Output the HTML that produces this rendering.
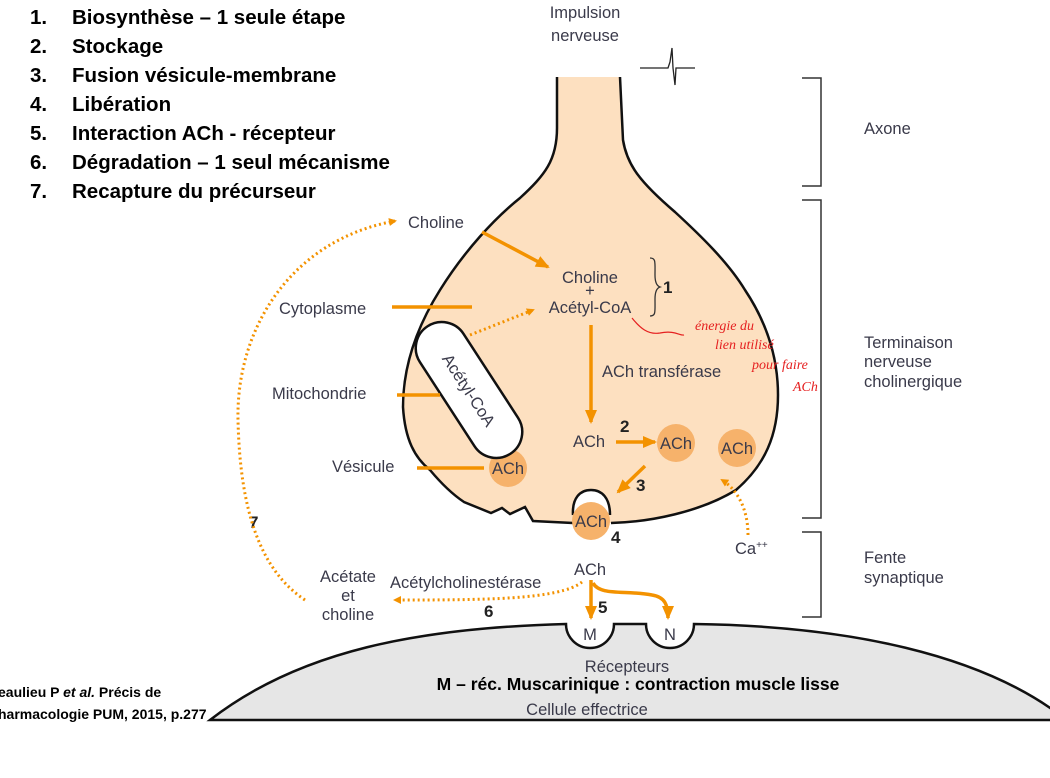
<!DOCTYPE html>
<html><head><meta charset="utf-8"><style>
html,body{margin:0;padding:0;background:#fff;}
svg{display:block;}
.t{font-family:"Liberation Sans",sans-serif;fill:#3a3a4a;font-size:16.5px;}
.b{font-family:"Liberation Sans",sans-serif;font-weight:bold;fill:#000;font-size:20.5px;}
.n{font-family:"Liberation Sans",sans-serif;font-weight:bold;fill:#222;font-size:17px;}
.h{font-family:"Liberation Serif",serif;font-style:italic;fill:#e52020;font-size:14px;}
</style></head><body>
<svg width="1050" height="778" viewBox="0 0 1050 778" xmlns="http://www.w3.org/2000/svg">
<defs>
<marker id="a" markerWidth="8" markerHeight="8" refX="6" refY="4" orient="auto" markerUnits="userSpaceOnUse"><path d="M0,0 L8,4 L0,8 z" fill="#f39200"/></marker>
<marker id="A" markerWidth="14" markerHeight="12" refX="12" refY="6" orient="auto" markerUnits="userSpaceOnUse"><path d="M0,0 L14,6 L0,12 z" fill="#f39200"/></marker>
</defs>
<g class="b">
<text x="30" y="24">1.</text><text x="72" y="24">Biosynthèse – 1 seule étape</text>
<text x="30" y="53">2.</text><text x="72" y="53">Stockage</text>
<text x="30" y="82">3.</text><text x="72" y="82">Fusion vésicule-membrane</text>
<text x="30" y="111">4.</text><text x="72" y="111">Libération</text>
<text x="30" y="140">5.</text><text x="72" y="140">Interaction ACh - récepteur</text>
<text x="30" y="169">6.</text><text x="72" y="169">Dégradation – 1 seul mécanisme</text>
<text x="30" y="198">7.</text><text x="72" y="198">Recapture du précurseur</text>
</g>
<text x="-2" y="697" style="font-family:'Liberation Sans',sans-serif;font-weight:bold;font-size:14px">eaulieu P <tspan font-style="italic">et al.</tspan> Précis de</text>
<text x="-2" y="719" style="font-family:'Liberation Sans',sans-serif;font-weight:bold;font-size:14px">harmacologie PUM, 2015, p.277</text>

<text class="t" x="585" y="18" text-anchor="middle">Impulsion</text>
<text class="t" x="585" y="41" text-anchor="middle">nerveuse</text>
<path d="M640,68 L668,68 L670,62 L672,48 L673,68 L675,85 L676,68 L695,68" fill="none" stroke="#222" stroke-width="1.3"/>

<path d="M210,720 C300,650 420,628 566,624 A24,24 0 0 0 614,624 L646,624 A24,24 0 0 0 694,624 C850,626 980,655 1060,715 L1060,720 Z" fill="#e6e6e6" stroke="#111" stroke-width="2.5"/>
<text class="t" x="590" y="640" text-anchor="middle">M</text>
<text class="t" x="670" y="640" text-anchor="middle">N</text>
<text class="t" x="627" y="672" text-anchor="middle">Récepteurs</text>
<text x="638" y="690" text-anchor="middle" style="font-family:'Liberation Sans',sans-serif;font-weight:bold;font-size:17.5px">M – réc. Muscarinique : contraction muscle lisse</text>
<text class="t" x="587" y="715" text-anchor="middle">Cellule effectrice</text>

<path d="M557,77 L557,128 C557,160 545,175 520,198 C495,218 465,250 440,290 C418,325 403,365 403,407 C405,440 415,458 430,470 C440,482 452,494 464,502 L491,513 L502,508 L510,514 L525,507 L533,521 L573,523 L611,523 C650,522 700,512 736,490 C765,465 778,435 778,395 C778,355 765,320 745,290 C728,262 700,235 675,212 C640,182 627,165 623,140 L620,77 Z" fill="#fde0c0"/>
<path d="M557,77 L557,128 C557,160 545,175 520,198 C495,218 465,250 440,290 C418,325 403,365 403,407 C405,440 415,458 430,470 C440,482 452,494 464,502 L491,513 L502,508 L510,514 L525,507 L533,521 L573,523 M611,523 C650,522 700,512 736,490 C765,465 778,435 778,395 C778,355 765,320 745,290 C728,262 700,235 675,212 C640,182 627,165 623,140 L620,77" fill="none" stroke="#111" stroke-width="2.5"/>
<path d="M573,515 C572,498 580,490 591,490 C602,490 610,498 610,515" fill="#fff" stroke="#111" stroke-width="2.5"/>
<circle cx="591" cy="521" r="19" fill="#f6b26b"/>
<text class="t" x="591" y="527" text-anchor="middle">ACh</text>
<circle cx="508" cy="468" r="19" fill="#f6b26b"/>
<text class="t" x="508" y="474" text-anchor="middle">ACh</text>
<circle cx="676" cy="443" r="19" fill="#f6b26b"/>
<text class="t" x="676" y="449" text-anchor="middle">ACh</text>
<circle cx="737" cy="448" r="19" fill="#f6b26b"/>
<text class="t" x="737" y="454" text-anchor="middle">ACh</text>

<g transform="translate(469,390) rotate(57)">
<rect x="-76" y="-26" width="152" height="52" rx="26" fill="#fff" stroke="#111" stroke-width="2.5"/>
<text class="t" x="0" y="6" text-anchor="middle">Acétyl-CoA</text>
</g>

<text class="t" x="408" y="228">Choline</text>
<text class="t" x="590" y="283" text-anchor="middle">Choline</text>
<text class="t" x="590" y="296" text-anchor="middle">+</text>
<text class="t" x="590" y="313" text-anchor="middle">Acétyl-CoA</text>
<path d="M650,258 C656,258 655,262 655,275 C655,283 657,286 660,287 C657,288 655,291 655,299 C655,312 656,316 650,316" fill="none" stroke="#333" stroke-width="1.3"/>
<text class="n" x="663" y="293">1</text>
<text class="t" x="279" y="314">Cytoplasme</text>
<text class="t" x="272" y="399">Mitochondrie</text>
<text class="t" x="332" y="472">Vésicule</text>
<text class="t" x="602" y="377">ACh transférase</text>
<text class="t" x="573" y="447">ACh</text>
<text class="n" x="620" y="432">2</text>
<text class="n" x="636" y="491">3</text>
<text class="n" x="611" y="543">4</text>
<text class="t" x="735" y="554">Ca<tspan font-size="10" dy="-6">++</tspan></text>
<text class="t" x="590" y="575" text-anchor="middle">ACh</text>
<text class="n" x="598" y="613">5</text>
<text class="n" x="484" y="617">6</text>
<text class="n" x="249" y="528">7</text>
<text class="t" x="348" y="582" text-anchor="middle">Acétate</text>
<text class="t" x="348" y="601" text-anchor="middle">et</text>
<text class="t" x="348" y="620" text-anchor="middle">choline</text>
<text class="t" x="390" y="588">Acétylcholinestérase</text>

<g stroke="#f39200" stroke-width="3.5" fill="none">
<line x1="392" y1="307" x2="472" y2="307"/>
<line x1="397" y1="395" x2="440" y2="395"/>
<line x1="417" y1="468" x2="484" y2="468"/>
<line x1="482" y1="232" x2="548" y2="267" marker-end="url(#A)"/>
<line x1="591" y1="325" x2="591" y2="422" marker-end="url(#A)"/>
<line x1="616" y1="442" x2="655" y2="442" marker-end="url(#A)"/>
<line x1="645" y1="466" x2="618" y2="492" marker-end="url(#A)"/>
<line x1="591" y1="580" x2="591" y2="618" marker-end="url(#A)"/>
<path d="M593,583 C600,596 625,590 652,595 C665,597 668,605 668,618" marker-end="url(#A)"/>
</g>
<g stroke="#f39200" stroke-width="3" fill="none" stroke-dasharray="2,3">
<path d="M305,600 C260,570 240,510 238,420 C236,330 290,240 395,221" marker-end="url(#a)"/>
<line x1="470" y1="335" x2="533" y2="310" marker-end="url(#a)"/>
<path d="M582,582 C560,600 480,600 395,600" marker-end="url(#a)"/>
<path d="M748,535 C748,510 738,490 722,480" marker-end="url(#a)"/>
</g>

<path d="M632,318 C640,328 648,335 660,333 C675,330 680,336 684,335" fill="none" stroke="#e52020" stroke-width="1.2"/>
<text class="h" x="695" y="330">énergie du</text>
<text class="h" x="715" y="349">lien utilisé</text>
<text class="h" x="752" y="369">pour faire</text>
<text class="h" x="793" y="391">ACh</text>

<g stroke="#333" stroke-width="1.5" fill="none">
<path d="M802,78 L821,78 L821,186 L802,186"/>
<path d="M802,200 L821,200 L821,518 L802,518"/>
<path d="M802,532 L821,532 L821,617 L802,617"/>
</g>
<text class="t" x="864" y="134">Axone</text>
<text class="t" x="864" y="348">Terminaison</text>
<text class="t" x="864" y="367">nerveuse</text>
<text class="t" x="864" y="387">cholinergique</text>
<text class="t" x="864" y="563">Fente</text>
<text class="t" x="864" y="583">synaptique</text>
</svg>
</body></html>
